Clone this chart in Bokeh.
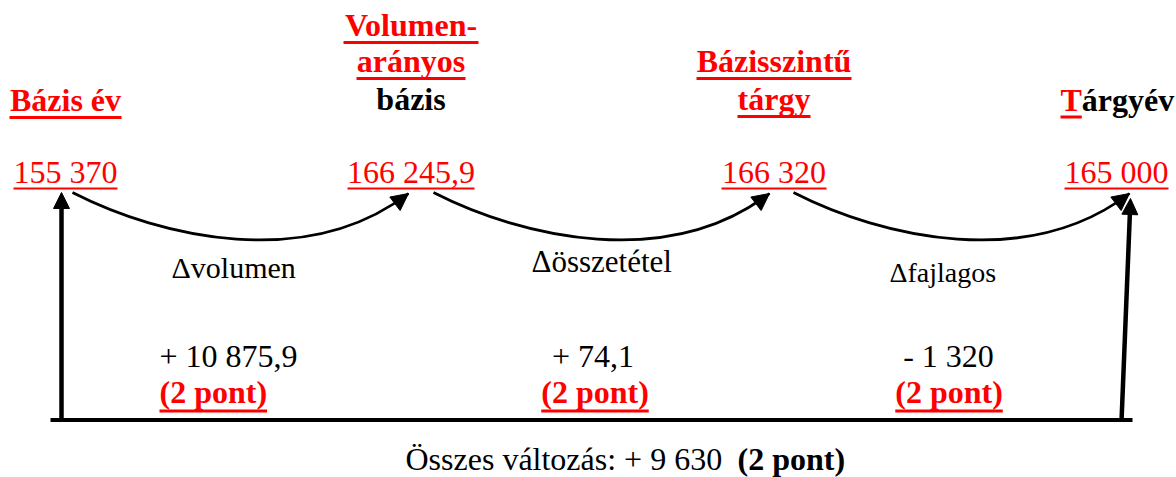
from bokeh.plotting import figure
from bokeh.models import Range1d, Arrow, NormalHead
from bokeh.core.properties import value
from bokeh.embed import file_html
from bokeh.resources import INLINE

# ---------------- data (texts of the diagram) ----------------
NODE_VALUES = ["155 370", "166 245,9", "166 320", "165 000"]
HEADER_LINES = [
    [("Bázis év", "red", True)],
    [("Volumen-", "red", True), ("arányos", "red", True), ("bázis", "black", False)],
    [("Bázisszintű", "red", True), ("tárgy", "red", True)],
]
LAST_HEADER = [("T", "red", True), ("árgyév", "black", False)]
CHANGE_NAMES = ["Δvolumen", "Δösszetétel", "Δfajlagos"]
CHANGE_VALUES = ["+ 10 875,9", "+ 74,1", "- 1 320"]
CHANGE_POINTS = ["(2 pont)", "(2 pont)", "(2 pont)"]
TOTAL_LABEL = "Összes változás: + 9 630"
TOTAL_POINTS = "(2 pont)"

# ---------------- layout (pixel positions of the sketch) ----------------
FONT = "Liberation Serif"
RED = "#ff0000"
BASELINE_FIX = 0.40  # svg text sits lower than the alphabetic baseline; lift by this share of size
NODE_X = [65, 410.5, 773.5, 1116]
NODE_W = [104, 127, 105, 104]
VALUE_BASELINE = 184
HEADER_BASELINES = [[112], [37, 73, 111], [73, 111]]
HEADER_WIDTHS = [[112], [135, 109, 0], [155, 73]]
LAST_HEADER_X = 1060
LAST_HEADER_T_W = 21.3
LAST_HEADER_BASELINE = 112

CURVE_X0 = [72, 433, 793]
CURVE_Y0 = 192
CURVE_SHAPE = dict(c0=(90, 238), c1=(235, 270), end=(336, 193))

NAME_POS = [(171, 279, 30), (531, 273, 31), (889, 283, 28)]
VALUE_POS = [(159, "left"), (592.5, "center"), (948, "center")]
VALUE_BASE = 368
POINT_POS = [(159, "left"), (594.5, "center"), (948.5, "center")]
POINT_W = 107.5
POINT_BASE = 404

BASE_Y = 419.5
BASE_X = (50, 1132)
LEFT_ARROW = (61, 421, 61, 192)
RIGHT_ARROW = (1121, 421, 1130, 198)

TOTAL_X = 405
TOTAL_POINTS_X = 737
TOTAL_BASE = 471

p = figure(width=1176, height=477, x_range=Range1d(0, 1176), y_range=Range1d(477, 0),
           x_axis_type=None, y_axis_type=None, output_backend="svg",
           toolbar_location=None, min_border=0)
p.grid.visible = False
p.outline_line_color = None
p.background_fill_color = "white"
p.border_fill_color = "white"


def txt(x, y, s, size=32, bold=False, color="black", align="center"):
    p.text(x=[x], y=[y - BASELINE_FIX * size], text=[s], text_font=value(FONT),
           text_font_size=f"{size}px",
           text_font_style="bold" if bold else "normal", text_color=color,
           text_align=align, text_baseline="alphabetic")


def uline(x0, x1, y, w=3, color=RED):
    p.segment(x0=[x0], y0=[y], x1=[x1], y1=[y], line_color=color, line_width=w)


# headers
for i, lines in enumerate(HEADER_LINES):
    for (s, col, und), yb, w in zip(lines, HEADER_BASELINES[i], HEADER_WIDTHS[i]):
        txt(NODE_X[i], yb, s, bold=True, color=RED if col == "red" else "black")
        if und:
            uline(NODE_X[i] - w / 2, NODE_X[i] + w / 2, yb + 5)

# last header: red underlined T + black rest
txt(LAST_HEADER_X, LAST_HEADER_BASELINE, LAST_HEADER[0][0], bold=True, color=RED, align="left")
uline(LAST_HEADER_X, LAST_HEADER_X + LAST_HEADER_T_W, LAST_HEADER_BASELINE + 4.5)
txt(LAST_HEADER_X + LAST_HEADER_T_W, LAST_HEADER_BASELINE, LAST_HEADER[1][0], bold=True,
    color="black", align="left")

# node values
for x, w, s in zip(NODE_X, NODE_W, NODE_VALUES):
    txt(x, VALUE_BASELINE, s, color=RED)
    uline(x - w / 2, x + w / 2, VALUE_BASELINE + 4, w=2.2)

# curved arrows between nodes
for x0 in CURVE_X0:
    c0 = (x0 + CURVE_SHAPE["c0"][0], CURVE_SHAPE["c0"][1])
    c1 = (x0 + CURVE_SHAPE["c1"][0], CURVE_SHAPE["c1"][1])
    e = (x0 + CURVE_SHAPE["end"][0], CURVE_SHAPE["end"][1])
    p.bezier(x0=[x0], y0=[CURVE_Y0], x1=[e[0]], y1=[e[1]], cx0=[c0[0]], cy0=[c0[1]],
             cx1=[c1[0]], cy1=[c1[1]], line_color="black", line_width=2.8)
    dx, dy = e[0] - c1[0], e[1] - c1[1]
    p.add_layout(Arrow(x_start=e[0] - dx * 0.05, y_start=e[1] - dy * 0.05, x_end=e[0], y_end=e[1],
                       line_alpha=0,
                       end=NormalHead(size=17, fill_color="black", line_color="black", line_width=1)))

# change names, values, points
for (x, y, sz), s in zip(NAME_POS, CHANGE_NAMES):
    txt(x, y, s, size=sz, align="left")
for (x, al), s in zip(VALUE_POS, CHANGE_VALUES):
    txt(x, VALUE_BASE, s, align=al)
for (x, al), s in zip(POINT_POS, CHANGE_POINTS):
    txt(x, POINT_BASE, s, bold=True, color=RED, align=al)
    xl = x if al == "left" else x - POINT_W / 2
    uline(xl, xl + POINT_W, POINT_BASE + 6.5)

# base line and vertical arrows
p.segment(x0=[BASE_X[0]], y0=[BASE_Y], x1=[BASE_X[1]], y1=[BASE_Y], line_color="black", line_width=4)
for (xs, ys, xe, ye) in (LEFT_ARROW, RIGHT_ARROW):
    p.add_layout(Arrow(x_start=xs, y_start=ys, x_end=xe, y_end=ye, line_width=4.5, line_color="black",
                       end=NormalHead(size=16, fill_color="black", line_color="black", line_width=1)))

# total
txt(TOTAL_X, TOTAL_BASE, TOTAL_LABEL, align="left")
txt(TOTAL_POINTS_X, TOTAL_BASE, TOTAL_POINTS, bold=True, align="left")

open("out.html", "w").write(file_html(p, INLINE))
